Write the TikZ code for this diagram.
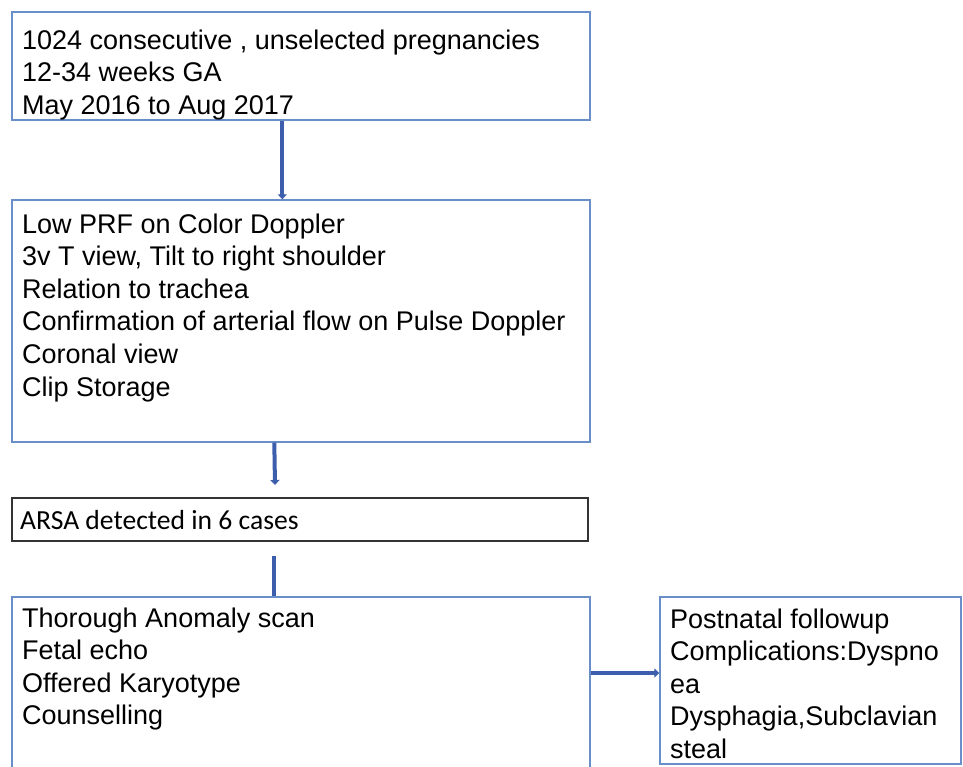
\documentclass[tikz,border=0pt]{standalone}
\usepackage{fontspec}
\setmainfont{Liberation Sans}
\newfontfamily\carlito{Carlito}
\usetikzlibrary{arrows.meta,calc}
\definecolor{boxblue}{HTML}{6A8FC8}
\definecolor{arrowblue}{HTML}{3D5EAC}
\definecolor{darkline}{HTML}{333333}
\tikzset{
  flowbox/.style={draw=boxblue, line width=1.4pt, rectangle, inner sep=0pt},
  blackbox/.style={draw=darkline, line width=1.8pt, rectangle, inner sep=0pt},
  boxtext/.style={anchor=base west, align=left, inner sep=0pt, font=\fontsize{27}{32.6}\selectfont},
  flowarrow/.style={draw=arrowblue, line width=4pt, -{Triangle[length=5pt,width=9pt]}},
  flowline/.style={draw=arrowblue, line width=4pt}
}
\begin{document}
\begin{tikzpicture}[x=1pt,y=-1pt]
\useasboundingbox (0,0) rectangle (963,766);
\clip (0,0) rectangle (963,766);
\fill[white] (0,0) rectangle (963,766);
% boxes
\node[flowbox, minimum width=578pt, minimum height=108pt] (box1) at (301,66) {};
\node[flowbox, minimum width=578pt, minimum height=242pt] (box2) at (301,321) {};
\node[blackbox, minimum width=576pt, minimum height=43pt] (box3) at (300,519.5) {};
\node[flowbox, minimum width=578pt, minimum height=202pt] (box4) at (301,698) {};
\node[flowbox, minimum width=301pt, minimum height=167pt] (box5) at (810.5,680.5) {};
% texts (anchored at the baseline of the last line)
\node[boxtext] (t1) at (22,114.2) {1024 consecutive , unselected pregnancies\\12-34 weeks GA\\May 2016 to Aug 2017};
\node[boxtext] (t2) at (22,396) {Low PRF on Color Doppler\\3v T view, Tilt to right shoulder\\Relation to trachea\\Confirmation of arterial flow on Pulse Doppler\\Coronal view\\Clip Storage};
\node[anchor=base west, inner sep=0pt, font=\carlito\fontsize{27.6}{32}\selectfont] (t3) at (20,529) {ARSA detected in 6 cases};
\node[boxtext] (t4) at (22,724.8) {Thorough Anomaly scan\\Fetal echo\\Offered Karyotype\\Counselling};
\node[boxtext] (t5) at (670,758.4) {Postnatal followup\\Complications:Dyspno\\ea\\Dysphagia,Subclavian\\steal};
% connector helper coordinates
\coordinate (a2end) at (275,485);
\coordinate (a3start) at (274,556);
\coordinate (a4y) at (0,673);
% connectors
\draw[flowarrow] ([xshift=271pt]box1.south west) -- ([xshift=271pt]box2.north west);
\draw[flowarrow] ([xshift=263pt]box2.south west) -- (a2end);
\draw[flowline] (a3start) -- (box4.north -| a3start);
\draw[flowarrow] (box4.east |- a4y) -- (box5.west |- a4y);
\end{tikzpicture}
\end{document}
